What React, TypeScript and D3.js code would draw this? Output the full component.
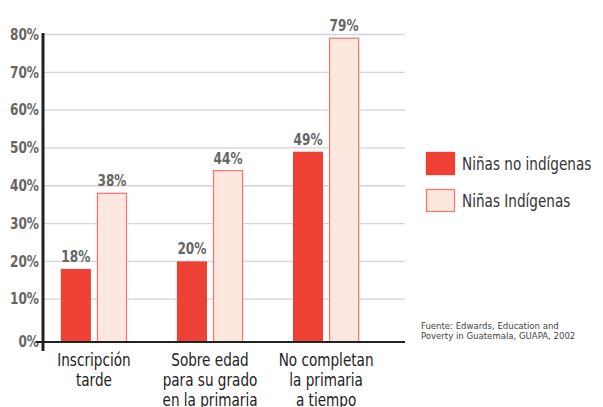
import { useMemo } from 'react';
import * as d3 from 'd3';

const categories = ['Inscripción tarde', 'Sobre edad para su grado en la primaria', 'No completan la primaria a tiempo'];
const categoryLines = [['Inscripción', 'tarde'], ['Sobre edad', 'para su grado', 'en la primaria'], ['No completan', 'la primaria', 'a tiempo']];
const seriesNames = ['Niñas no indígenas', 'Niñas Indígenas'];
const noIndigenas = [18, 20, 49];
const indigenas = [38, 44, 79];
const yTicks = [0, 10, 20, 30, 40, 50, 60, 70, 80];
const sourceLines = ['Fuente: Edwards, Education and', 'Poverty in Guatemala, GUAPA, 2002'];

const RED = '#ee4035';
const PINK = '#fde8e0';
const PINK_STROKE = '#f27a70';
const NARROW = '"DejaVu Sans Condensed", "Liberation Sans Narrow", sans-serif';

// condensed text: the original face is narrower than anything installed, so squeeze it
const Narrow = ({ x, y, sx = 0.84, children, ...rest }: any) => (
  <text transform={`translate(${x},${y}) scale(${sx},1)`} fontFamily={NARROW} {...rest}>
    {children}
  </text>
);

export default function App() {
  const width = 603;
  const height = 407;
  const axisX = 43;
  const baseY = 342;
  const gridRight = 405;

  const y = useMemo(() => d3.scaleLinear().domain([0, 80]).range([337, 34.5]), []);
  const x = useMemo(
    () => d3.scaleBand().domain(categories).range([26, 394]).paddingInner(0.43).paddingOuter(0.3),
    []
  );
  const xSub = useMemo(
    () => d3.scaleBand().domain(seriesNames).range([0, x.bandwidth()]).paddingInner(0.167),
    [x]
  );

  const series = [noIndigenas, indigenas];

  return (
    <svg width={width} height={height} style={{ position: 'absolute', left: 0, top: 0, background: '#fff' }}>
      {/* gridlines */}
      {yTicks.filter((t) => t > 0).map((t) => (
        <line key={t} x1={axisX} x2={gridRight} y1={y(t)} y2={y(t)} stroke="#d4d4d4" strokeWidth={1.3} />
      ))}
      {/* y tick labels */}
      {yTicks.map((t) => (
        <Narrow
          key={'l' + t}
          x={39}
          y={t === 0 ? baseY : y(t)}
          sx={0.9}
          textAnchor="end"
          dominantBaseline="central"
          fontWeight="bold"
          fontSize={15}
          fill="#666"
        >
          {t}%
        </Narrow>
      ))}

      {/* bars */}
      {categories.map((c, i) => (
        <g key={c} transform={`translate(${x(c)},0)`}>
          {series.map((vals, s) => {
            const bx = xSub(seriesNames[s])!;
            const top = y(vals[i]);
            return (
              <g key={s}>
                <rect
                  x={bx + (s === 1 ? 0.5 : 0)}
                  y={top}
                  width={xSub.bandwidth() - (s === 1 ? 1 : 0)}
                  height={baseY - top}
                  fill={s === 0 ? RED : PINK}
                  stroke={s === 0 ? 'none' : PINK_STROKE}
                  strokeWidth={1.3}
                />
                <Narrow
                  x={bx + xSub.bandwidth() / 2}
                  y={top - 7}
                  sx={0.9}
                  textAnchor="middle"
                  fontWeight="bold"
                  fontSize={15}
                  fill="#666"
                >
                  {vals[i]}%
                </Narrow>
              </g>
            );
          })}
          {categoryLines[i].map((line, k) => (
            <Narrow key={k} x={x.bandwidth() / 2} y={366 + k * 20} textAnchor="middle" fontSize={18} fill="#222">
              {line}
            </Narrow>
          ))}
        </g>
      ))}

      {/* axes */}
      <line x1={36} x2={gridRight} y1={baseY} y2={baseY} stroke="#222" strokeWidth={2} />
      <line x1={axisX} x2={axisX} y1={33} y2={351} stroke="#222" strokeWidth={3} />

      {/* legend */}
      {seriesNames.map((name, s) => (
        <g key={name} transform={`translate(426,${152 + s * 37})`}>
          <rect
            x={0.5}
            y={0.5}
            width={28}
            height={22}
            fill={s === 0 ? RED : PINK}
            stroke={s === 0 ? RED : PINK_STROKE}
            strokeWidth={1.3}
          />
          <Narrow x={36} y={12} dominantBaseline="central" fontSize={18} fill="#333">
            {name}
          </Narrow>
        </g>
      ))}

      {/* source */}
      {sourceLines.map((line, k) => (
        <text key={k} x={421} y={329 + k * 10} fontFamily={NARROW} fontSize={9.5} fill="#444">
          {line}
        </text>
      ))}
    </svg>
  );
}
